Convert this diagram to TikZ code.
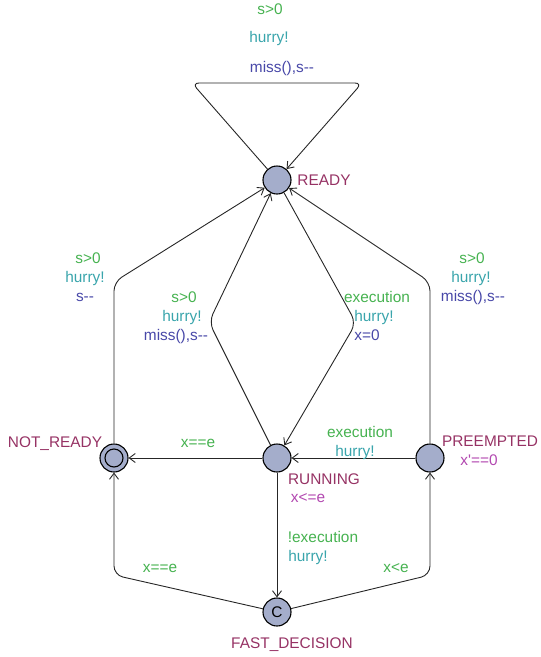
\documentclass[tikz,border=0pt]{standalone}
\usepackage{fontspec}
\setmainfont{Liberation Sans}[Ligatures=TeXOff]
\usetikzlibrary{arrows.meta}
\definecolor{guardc}{RGB}{70,178,80}
\definecolor{syncc}{RGB}{58,165,172}
\definecolor{updc}{RGB}{72,72,168}
\definecolor{namec}{RGB}{150,50,100}
\definecolor{invc}{RGB}{178,72,176}
\definecolor{locfill}{RGB}{164,173,203}
\begin{document}
\begin{tikzpicture}[x=1pt,y=-1pt,
  loc/.style={circle,draw=black,fill=locfill,line width=1.1pt,minimum size=28pt,inner sep=0pt},
  edge/.style={draw=black!85,line width=0.9pt,-{Straight Barb[length=6pt,width=9pt,line width=0.9pt]}},
  lab/.style={inner sep=0pt,text height=11pt,text depth=3pt,font=\fontsize{15.4}{18}\selectfont},
  guard/.style={lab,text=guardc},
  sync/.style={lab,text=syncc},
  upd/.style={lab,text=updc},
  lname/.style={lab,text=namec},
  inv/.style={lab,text=invc}]
\useasboundingbox (0,0) rectangle (541,657);
% locations
\node[loc] (ready) at (277,180) {};
\node[loc] (running) at (277,458) {};
\node[loc] (notready) at (114,458) {};
\node[circle,draw=black,line width=1.1pt,minimum size=18pt,inner sep=0pt] (notreadyin) at (notready) {};
\node[loc] (preempted) at (430,458) {};
\node[loc,font=\fontsize{15.4}{18}\selectfont] (fast) at (277,612) {C};
% location names and invariants
\node[lname] (nready) at (324,181) {READY};
\node[lname] (nrunning) at (324,480) {RUNNING};
\node[inv] (irunning) at (308,498) {x<=e};
\node[lname] (nnotready) at (55,443) {NOT\_READY};
\node[lname] (npreempted) at (490,442) {PREEMPTED};
\node[inv] (ipreempted) at (479,461) {x'==0};
\node[lname] (nfast) at (292,644) {FAST\_DECISION};
% edges
\draw[edge,rounded corners=7pt] (ready) -- (192,83) -- (362,83) -- (ready);
\draw[edge,rounded corners=9pt] (notready) -- (114,282) -- (ready);
\draw[edge,rounded corners=9pt] (running) -- (209,322) -- (ready);
\draw[edge,rounded corners=9pt] (ready) -- (356,323) -- (running);
\draw[edge,rounded corners=9pt] (preempted) -- (430,282) -- (ready);
\draw[edge] (running) -- (notready);
\draw[edge] (preempted) -- (running);
\draw[edge] (running) -- (fast);
\draw[edge,rounded corners=9pt] (fast) -- (114,575) -- (notready);
\draw[edge,rounded corners=9pt] (fast) -- (430,575) -- (preempted);
% edge labels
\node[guard] (g1) at (270,10) {s>0};
\node[sync] (s1) at (269,38) {hurry!};
\node[upd] (u1) at (282,68) {miss(),s--};
\node[guard] (g2) at (88,259) {s>0};
\node[sync] (s2) at (85,278) {hurry!};
\node[upd] (u2) at (85,297) {s--};
\node[guard] (g3) at (184,298) {s>0};
\node[sync] (s3) at (182,317) {hurry!};
\node[upd] (u3) at (176,336) {miss(),s--};
\node[guard] (g4) at (377,298) {execution};
\node[sync] (s4) at (374,317) {hurry!};
\node[upd] (u4) at (367,336) {x=0};
\node[guard] (g5) at (472,259) {s>0};
\node[sync] (s5) at (471,278) {hurry!};
\node[upd] (u5) at (473,297) {miss(),s--};
\node[guard] (g6) at (198,443) {x==e};
\node[guard] (g7) at (360,433) {execution};
\node[sync] (s7) at (355,452) {hurry!};
\node[guard] (g8) at (323,538) {!execution};
\node[sync] (s8) at (308,557) {hurry!};
\node[guard] (g9) at (160,568) {x==e};
\node[guard] (g10) at (396,568) {x<e};
\end{tikzpicture}
\end{document}
